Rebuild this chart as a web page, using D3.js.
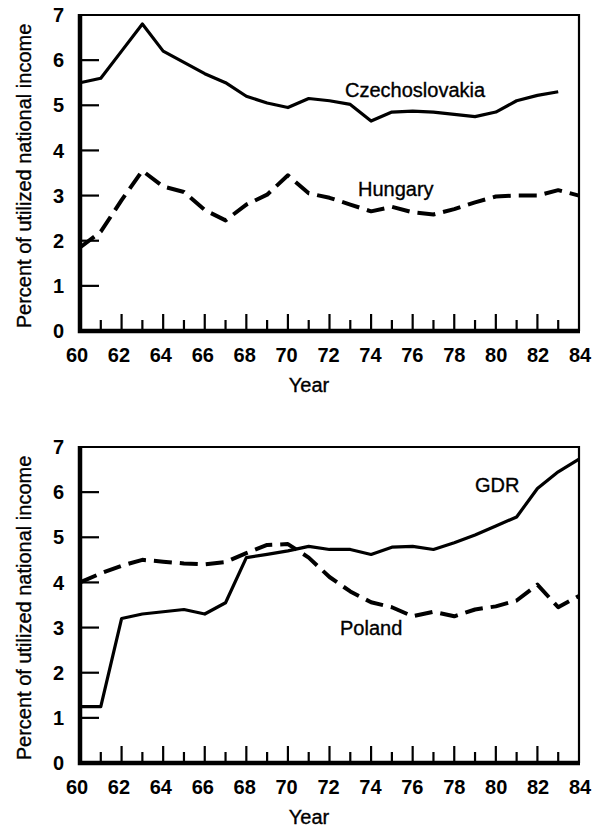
<!DOCTYPE html>
<html>
<head>
<meta charset="utf-8">
<script src="https://cdn.jsdelivr.net/npm/d3@7/dist/d3.min.js"></script>
<style>
  html, body { margin: 0; padding: 0; background: #fff; }
  svg { display: block; font-family: "Liberation Sans", Arial, sans-serif; }
  .label { stroke: #000; stroke-width: 0.35px; }
</style>
</head>
<body>
<div id="chart"></div>
<script>
const YEARS = d3.range(60, 85);
const Y_TICKS = [0, 1, 2, 3, 4, 5, 6, 7];
const X_TICK_LABELS = [60, 62, 64, 66, 68, 70, 72, 74, 76, 78, 80, 82, 84];

const czechYears = d3.range(60, 84);
const czechValues = [5.5, 5.6, 6.2, 6.8, 6.2, 5.95, 5.7, 5.5, 5.2, 5.05, 4.95, 5.15, 5.1, 5.02,
  4.65, 4.85, 4.87, 4.85, 4.8, 4.75, 4.85, 5.1, 5.22, 5.3];

const hungaryValues = [1.85, 2.2, 2.9, 3.55, 3.2, 3.08, 2.68, 2.45, 2.8, 3.02, 3.45, 3.05, 2.95,
  2.8, 2.65, 2.75, 2.63, 2.58, 2.7, 2.85, 2.98, 3.0, 3.0, 3.12, 3.0];

const gdrValues = [1.25, 1.25, 3.2, 3.3, 3.35, 3.4, 3.3, 3.55, 4.55, 4.62, 4.7, 4.8, 4.73,
  4.73, 4.62, 4.78, 4.8, 4.73, 4.88, 5.05, 5.25, 5.45, 6.08, 6.45, 6.73];

const polandValues = [4.0, 4.2, 4.37, 4.5, 4.46, 4.42, 4.4, 4.45, 4.65, 4.83, 4.85, 4.55, 4.12,
  3.8, 3.56, 3.45, 3.25, 3.35, 3.25, 3.4, 3.47, 3.6, 3.95, 3.45, 3.7];

const panels = [
  {
    top: 15,
    series: [
      { years: czechYears, values: czechValues, dashed: false },
      { years: YEARS, values: hungaryValues, dashed: true },
    ],
    labels: [
      { text: "Czechoslovakia", x: 345, y: 97 },
      { text: "Hungary", x: 358, y: 196 },
    ],
  },
  {
    top: 447,
    series: [
      { years: YEARS, values: gdrValues, dashed: false },
      { years: YEARS, values: polandValues, dashed: true },
    ],
    labels: [
      { text: "GDR", x: 475, y: 492 },
      { text: "Poland", x: 340, y: 635 },
    ],
  },
];

const width = 596;
const height = 827;
const left = 80;
const right = 579;
const plotHeight = 316;

const svg = d3.select("#chart")
  .append("svg")
  .attr("width", width)
  .attr("height", height);

panels.forEach((panel) => {
  const bottom = panel.top + plotHeight;
  const x = d3.scaleLinear().domain([60, 84]).range([left, right]);
  const y = d3.scaleLinear().domain([0, 7]).range([bottom, panel.top]);
  // tick labels sit on a slightly wider spread than the ticks in the original
  const xLab = d3.scaleLinear().domain([60, 84]).range([77, 580]);

  const g = svg.append("g");

  // frame: thin top and right
  g.append("path")
    .attr("d", `M${left},${y(7)}H${x(84)}V${y(0)}`)
    .attr("fill", "none")
    .attr("stroke", "#000")
    .attr("stroke-width", 2.2);

  // y ticks (inward)
  g.selectAll(".ytick")
    .data(Y_TICKS.filter((d) => d > 0 && d < 7))
    .join("line")
    .attr("x1", left)
    .attr("x2", left + 19)
    .attr("y1", (d) => y(d))
    .attr("y2", (d) => y(d))
    .attr("stroke", "#000")
    .attr("stroke-width", 2.2);

  // x ticks (inward, major on even years)
  g.selectAll(".xtick")
    .data(YEARS.filter((d) => d > 60 && d < 84))
    .join("line")
    .attr("x1", (d) => x(d))
    .attr("x2", (d) => x(d))
    .attr("y1", bottom)
    .attr("y2", (d) => bottom - (d % 2 === 0 ? 17 : 11))
    .attr("stroke", "#000")
    .attr("stroke-width", 2.2);

  // heavy left and bottom axes
  g.append("path")
    .attr("d", `M${left},${y(7) - 1}V${bottom}H${x(84) + 1}`)
    .attr("fill", "none")
    .attr("stroke", "#000")
    .attr("stroke-width", 4.5);

  g.selectAll(".ylab")
    .data(Y_TICKS)
    .join("text")
    .attr("x", 64)
    .attr("y", (d) => y(d))
    .attr("dy", "0.36em")
    .attr("text-anchor", "end")
    .attr("font-size", 20)
    .attr("font-weight", "bold")
    .text((d) => d);

  g.selectAll(".xlab")
    .data(X_TICK_LABELS)
    .join("text")
    .attr("x", (d) => xLab(d))
    .attr("y", bottom + 31)
    .attr("text-anchor", "middle")
    .attr("font-size", 20)
    .attr("font-weight", "bold")
    .text((d) => d);

  g.append("text")
    .attr("class", "label")
    .attr("x", 309)
    .attr("y", bottom + 61)
    .attr("text-anchor", "middle")
    .attr("font-size", 20)
    .text("Year");

  g.append("text")
    .attr("class", "label")
    .attr("transform", `translate(31,${panel.top + 161}) rotate(-90)`)
    .attr("text-anchor", "middle")
    .attr("font-size", 20)
    .text("Percent of utilized national income");

  const line = d3.line()
    .x((d) => x(d[0]))
    .y((d) => y(d[1]));

  panel.series.forEach((s) => {
    g.append("path")
      .datum(s.years.map((yr, i) => [yr, s.values[i]]))
      .attr("fill", "none")
      .attr("stroke", "#000")
      .attr("stroke-width", s.dashed ? 4 : 3.2)
      .attr("stroke-linejoin", "round")
      .attr("stroke-dasharray", s.dashed ? "18,8" : null)
      .attr("d", line);
  });

  panel.labels.forEach((lab) => {
    g.append("text")
      .attr("class", "label")
      .attr("x", lab.x)
      .attr("y", lab.y)
      .attr("font-size", 20)
      .text(lab.text);
  });
});
</script>
</body>
</html>
